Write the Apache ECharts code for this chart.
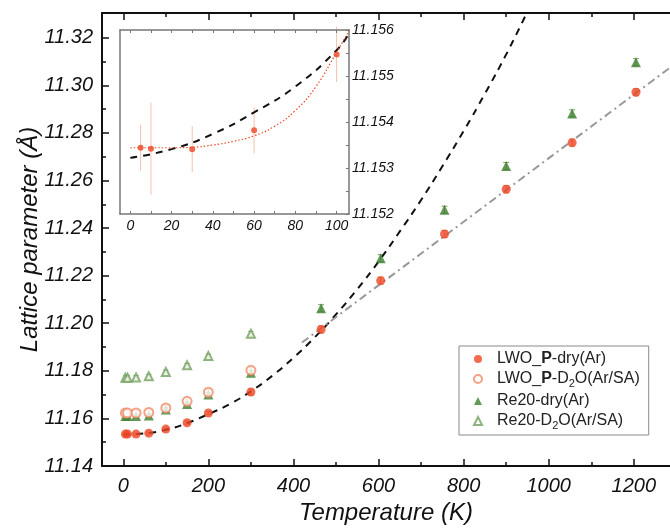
<!DOCTYPE html>
<html>
<head>
<meta charset="utf-8">
<script src="https://cdn.jsdelivr.net/npm/echarts@6/dist/echarts.min.js"></script>
<style>
  html, body { margin: 0; padding: 0; background: #fff; }
  #chart { width: 670px; height: 530px; }
</style>
</head>
<body>
<div id="chart"></div>
<script>
// temperatures (K)
const tempAll = [5, 10, 30, 60, 100, 150, 200, 300, 465, 605, 755, 900, 1055, 1205]
const tempLow = [5, 10, 30, 60, 100, 150, 200, 300]

// lattice parameters (Å) and errors
const lwoDry = [11.1534, 11.1534, 11.1534, 11.1538, 11.1555, 11.1582, 11.1623, 11.1711, 11.1974, 11.2179, 11.2375, 11.2563, 11.2759, 11.2971]
const lwoDryErr = [0.0004, 0.0004, 0.0004, 0.0004, 0.0005, 0.0006, 0.0006, 0.0012, 0.0015, 0.0015, 0.0015, 0.0015, 0.0015, 0.0015]
const lwoD2O = [11.1623, 11.1623, 11.1623, 11.1625, 11.1644, 11.1672, 11.1710, 11.1802]
const lwoD2OErr = [0.001, 0.001, 0.001, 0.001, 0.001, 0.001, 0.0012, 0.0012]
const reDry = [11.1610, 11.1610, 11.1610, 11.1612, 11.1637, 11.1661, 11.1701, 11.1792, 11.2063, 11.2273, 11.2477, 11.2661, 11.2882, 11.3097]
const reDryErr = [0.0008, 0.0008, 0.0008, 0.0008, 0.0008, 0.0008, 0.0008, 0.001, 0.0015, 0.0015, 0.0015, 0.0015, 0.0015, 0.0015]
const reD2O = [11.1771, 11.1771, 11.1772, 11.1777, 11.1795, 11.1823, 11.1862, 11.1956]
const reD2OErr = [0.0008, 0.0008, 0.0008, 0.0008, 0.0008, 0.0008, 0.0008, 0.001]

// fitted curves
const fitT = [0, 50, 100, 150, 200, 250, 300, 350, 400, 450, 500, 550, 600, 650, 700, 750, 800, 850, 900, 950]
const fitV = [11.1532, 11.1537, 11.1552, 11.1580, 11.1618, 11.1660, 11.1714, 11.1779, 11.1855, 11.1941, 11.2037, 11.2143, 11.2259, 11.2386, 11.2518, 11.2660, 11.2808, 11.2965, 11.3130, 11.3310]
const linT = [420, 1290]
const linV = [11.1919, 11.3081]

// inset
const insetT = [5, 10, 30, 60, 100]
const insetV = [11.15344, 11.15342, 11.15341, 11.15382, 11.15547]
const insetErr = [0.0005, 0.001, 0.0005, 0.0005, 0.0006]
const insetDashT = [0, 20, 40, 60, 80, 100, 106]
const insetDashV = [11.15322, 11.15341, 11.15374, 11.15421, 11.15477, 11.15556, 11.15593]
const insetDotT = [0, 20, 30, 40, 50, 60, 70, 80, 90, 100, 106]
const insetDotV = [11.15344, 11.15344, 11.15345, 11.1535, 11.15358, 11.1537, 11.15391, 11.15425, 11.15477, 11.15552, 11.15598]

// ticks
const xMajor = [0, 200, 400, 600, 800, 1000, 1200]
const xMinor = [100, 300, 500, 700, 900, 1100]
const yMajor = [11.14, 11.16, 11.18, 11.20, 11.22, 11.24, 11.26, 11.28, 11.30, 11.32]
const yMinor = [11.15, 11.17, 11.19, 11.21, 11.23, 11.25, 11.27, 11.29, 11.31]
const insetXMajor = [0, 20, 40, 60, 80, 100]
const insetXTicks = [0, 10, 20, 30, 40, 50, 60, 70, 80, 90, 100]
const insetYMajor = [11.152, 11.153, 11.154, 11.155, 11.156]
const insetYTicks = [11.152, 11.1525, 11.153, 11.1535, 11.154, 11.1545, 11.155, 11.1555, 11.156]

const FONT = 'Liberation Sans'
const RED = '#ec4624'
const RED_LIGHT = '#f08a66'
const GREEN = '#3d7f2f'
const GREEN_LIGHT = '#73a05e'

const zip = (xs, ys) => xs.map((x, i) => [x, ys[i]])
const zip3 = (xs, ys, es) => xs.map((x, i) => [x, ys[i], es[i]])

const errorBars = (data, color, xi, yi, cap) => ({
  type: 'custom',
  xAxisIndex: xi,
  yAxisIndex: yi,
  z: 1,
  silent: true,
  data: data,
  renderItem: (params, api) => {
    const x = api.value(0)
    const y = api.value(1)
    const e = api.value(2)
    const top = api.coord([x, y + e])
    const bot = api.coord([x, y - e])
    const style = { stroke: color, lineWidth: 1 }
    const children = [{ type: 'line', shape: { x1: top[0], y1: top[1], x2: bot[0], y2: bot[1] }, style }]
    if (cap) {
      children.push({ type: 'line', shape: { x1: top[0] - cap, y1: top[1], x2: top[0] + cap, y2: top[1] }, style })
      children.push({ type: 'line', shape: { x1: bot[0] - cap, y1: bot[1], x2: bot[0] + cap, y2: bot[1] }, style })
    }
    return { type: 'group', children }
  }
})

// bare axis used only to draw extra tick marks
const tickAxis = opts => Object.assign({
  type: 'value',
  splitLine: { show: false },
  axisLabel: { show: false },
  axisLine: { show: false, onZero: false }
}, opts)

const chart = echarts.init(document.getElementById('chart'), null, { renderer: 'canvas' })

const labelMap = {
  'LWO_P-dry(Ar)': '{p| }LWO_{b|P}-dry(Ar)',
  'LWO_P-D2O(Ar/SA)': '{p| }LWO_{b|P}-D{s|2}O(Ar/SA)',
  'Re20-dry(Ar)': '{p| }Re20-dry(Ar)',
  'Re20-D2O(Ar/SA)': '{p| }Re20-D{s|2}O(Ar/SA)'
}

const mainLine = { onZero: false, lineStyle: { color: '#111', width: 2 } }
const insetLine = { onZero: false, lineStyle: { color: '#777', width: 1.5 } }
const titleStyle = { fontFamily: FONT, fontStyle: 'italic', fontSize: 24, color: '#111' }
const tickFont = { fontFamily: FONT, fontStyle: 'italic', fontSize: 20, color: '#111' }

const option = {
  animation: false,
  backgroundColor: '#fff',
  grid: [
    { left: 102, top: 13, right: 0, bottom: 62, show: false },
    { left: 120, top: 30, width: 229, height: 184, show: true, backgroundColor: '#fff', borderWidth: 0, z: 5 }
  ],
  legend: {
    orient: 'vertical',
    left: 459,
    top: 346,
    padding: [5, 9, 4, 14],
    itemWidth: 8,
    itemHeight: 8,
    itemGap: 4,
    borderColor: '#8a8a8a',
    borderWidth: 1,
    backgroundColor: '#fff',
    data: ['LWO_P-dry(Ar)', 'LWO_P-D2O(Ar/SA)', 'Re20-dry(Ar)', 'Re20-D2O(Ar/SA)'],
    formatter: name => labelMap[name],
    textStyle: {
      fontFamily: FONT,
      fontSize: 16,
      color: '#222',
      rich: {
        p: { width: 10, fontSize: 16 },
        b: { fontFamily: FONT, fontSize: 16, fontWeight: 'bold', color: '#222' },
        s: { fontFamily: FONT, fontSize: 11, color: '#222', padding: [9, 0, 0, 0] }
      }
    }
  },
  xAxis: [
    {
      type: 'value', gridIndex: 0, position: 'bottom', min: -50, max: 1285,
      name: 'Temperature (K)', nameLocation: 'middle', nameGap: 35, nameMoveOverlap: false,
      nameTextStyle: titleStyle,
      splitLine: { show: false },
      axisLine: mainLine,
      axisTick: { inside: true, length: 7, customValues: xMajor, lineStyle: { color: '#111', width: 1.5 } },
      axisLabel: Object.assign({ customValues: xMajor, margin: 10, formatter: v => String(v) }, tickFont)
    },
    tickAxis({
      gridIndex: 0, position: 'bottom', min: -50, max: 1285,
      axisTick: { inside: true, length: 4, customValues: xMinor, lineStyle: { color: '#111', width: 1.5 } }
    }),
    tickAxis({
      gridIndex: 0, position: 'top', min: -50, max: 1285,
      axisLine: { show: true, onZero: false, lineStyle: { color: '#111', width: 2 } },
      axisTick: { inside: true, length: 7, customValues: xMajor, lineStyle: { color: '#111', width: 1.5 } }
    }),
    tickAxis({
      gridIndex: 0, position: 'top', min: -50, max: 1285,
      axisTick: { inside: true, length: 4, customValues: xMinor, lineStyle: { color: '#111', width: 1.5 } }
    }),
    {
      type: 'value', gridIndex: 1, position: 'bottom', min: -5, max: 106, z: 6,
      splitLine: { show: false },
      axisLine: insetLine,
      axisTick: { inside: true, length: 3, customValues: insetXTicks, lineStyle: { color: '#777', width: 1 } },
      axisLabel: { customValues: insetXMajor, margin: 5, fontFamily: FONT, fontStyle: 'italic', fontSize: 14, color: '#111' }
    },
    tickAxis({
      gridIndex: 1, position: 'top', min: -5, max: 106, z: 6,
      axisLine: Object.assign({ show: true }, insetLine),
      axisTick: { inside: true, length: 3, customValues: insetXTicks, lineStyle: { color: '#777', width: 1 } }
    })
  ],
  yAxis: [
    {
      type: 'value', gridIndex: 0, position: 'left', min: 11.14, max: 11.3304,
      name: 'Lattice parameter (Å)', nameLocation: 'middle', nameGap: 60, nameMoveOverlap: false,
      nameTextStyle: titleStyle,
      splitLine: { show: false },
      axisLine: mainLine,
      axisTick: { inside: true, length: 7, customValues: yMajor, lineStyle: { color: '#111', width: 1.5 } },
      axisLabel: Object.assign({ customValues: yMajor, margin: 9, formatter: v => v.toFixed(2) }, tickFont)
    },
    tickAxis({
      gridIndex: 0, position: 'left', min: 11.14, max: 11.3304,
      axisTick: { inside: true, length: 4, customValues: yMinor, lineStyle: { color: '#111', width: 1.5 } }
    }),
    {
      type: 'value', gridIndex: 1, position: 'right', min: 11.152, max: 11.156, z: 6,
      splitLine: { show: false },
      axisLine: insetLine,
      axisTick: { inside: true, length: 3, customValues: insetYTicks, lineStyle: { color: '#777', width: 1 } },
      axisLabel: {
        customValues: insetYMajor, margin: 3, fontFamily: FONT, fontStyle: 'italic', fontSize: 14, color: '#111',
        formatter: v => v.toFixed(3)
      }
    },
    tickAxis({
      gridIndex: 1, position: 'left', min: 11.152, max: 11.156, z: 6,
      axisLine: Object.assign({ show: true }, insetLine),
      axisTick: { show: false }
    })
  ],
  series: [
    {
      name: 'fit', type: 'line', xAxisIndex: 0, yAxisIndex: 0, z: 2,
      data: zip(fitT, fitV), smooth: true, symbol: 'none', silent: true,
      lineStyle: { color: '#111', width: 2, type: [7, 6] }
    },
    {
      name: 'linear', type: 'line', xAxisIndex: 0, yAxisIndex: 0, z: 2,
      data: zip(linT, linV), symbol: 'none', silent: true,
      lineStyle: { color: '#999', width: 2, type: [8, 4, 2, 4] }
    },
    errorBars(zip3(tempLow, reD2O, reD2OErr), GREEN_LIGHT, 0, 0, 2.5),
    errorBars(zip3(tempAll, reDry, reDryErr), GREEN_LIGHT, 0, 0, 3),
    errorBars(zip3(tempLow, lwoD2O, lwoD2OErr), RED_LIGHT, 0, 0, 3),
    errorBars(zip3(tempAll, lwoDry, lwoDryErr), RED_LIGHT, 0, 0, 3),
    {
      name: 'Re20-D2O(Ar/SA)', type: 'scatter', xAxisIndex: 0, yAxisIndex: 0, z: 3,
      data: zip(tempLow, reD2O), symbol: 'emptyTriangle', symbolSize: 8,
      itemStyle: { color: GREEN_LIGHT, borderColor: GREEN_LIGHT, borderWidth: 1 }
    },
    {
      name: 'Re20-dry(Ar)', type: 'scatter', xAxisIndex: 0, yAxisIndex: 0, z: 3,
      data: zip(tempAll, reDry), symbol: 'triangle', symbolSize: 10,
      itemStyle: { color: GREEN }
    },
    {
      name: 'LWO_P-D2O(Ar/SA)', type: 'scatter', xAxisIndex: 0, yAxisIndex: 0, z: 3,
      data: zip(tempLow, lwoD2O), symbol: 'emptyCircle', symbolSize: 9,
      itemStyle: { color: RED_LIGHT, borderColor: RED_LIGHT, borderWidth: 1 }
    },
    {
      name: 'LWO_P-dry(Ar)', type: 'scatter', xAxisIndex: 0, yAxisIndex: 0, z: 4,
      data: zip(tempAll, lwoDry), symbol: 'circle', symbolSize: 9,
      itemStyle: { color: RED }
    },
    // inset
    {
      name: 'insetFit', type: 'line', xAxisIndex: 4, yAxisIndex: 2, z: 6,
      data: zip(insetDashT, insetDashV), smooth: true, symbol: 'none', silent: true,
      lineStyle: { color: '#111', width: 2, type: [7, 6] }
    },
    {
      name: 'insetDot', type: 'line', xAxisIndex: 4, yAxisIndex: 2, z: 6,
      data: zip(insetDotT, insetDotV), smooth: true, symbol: 'none', silent: true,
      lineStyle: { color: RED, width: 1.2, type: [1.5, 2] }
    },
    Object.assign(errorBars(zip3(insetT, insetV, insetErr), '#f6c2a8', 4, 2, 0), { z: 6 }),
    {
      name: 'insetPts', type: 'scatter', xAxisIndex: 4, yAxisIndex: 2, z: 7,
      data: zip(insetT, insetV), symbol: 'circle', symbolSize: 6, silent: true,
      itemStyle: { color: RED }
    }
  ]
}

chart.setOption(option)
</script>
</body>
</html>
